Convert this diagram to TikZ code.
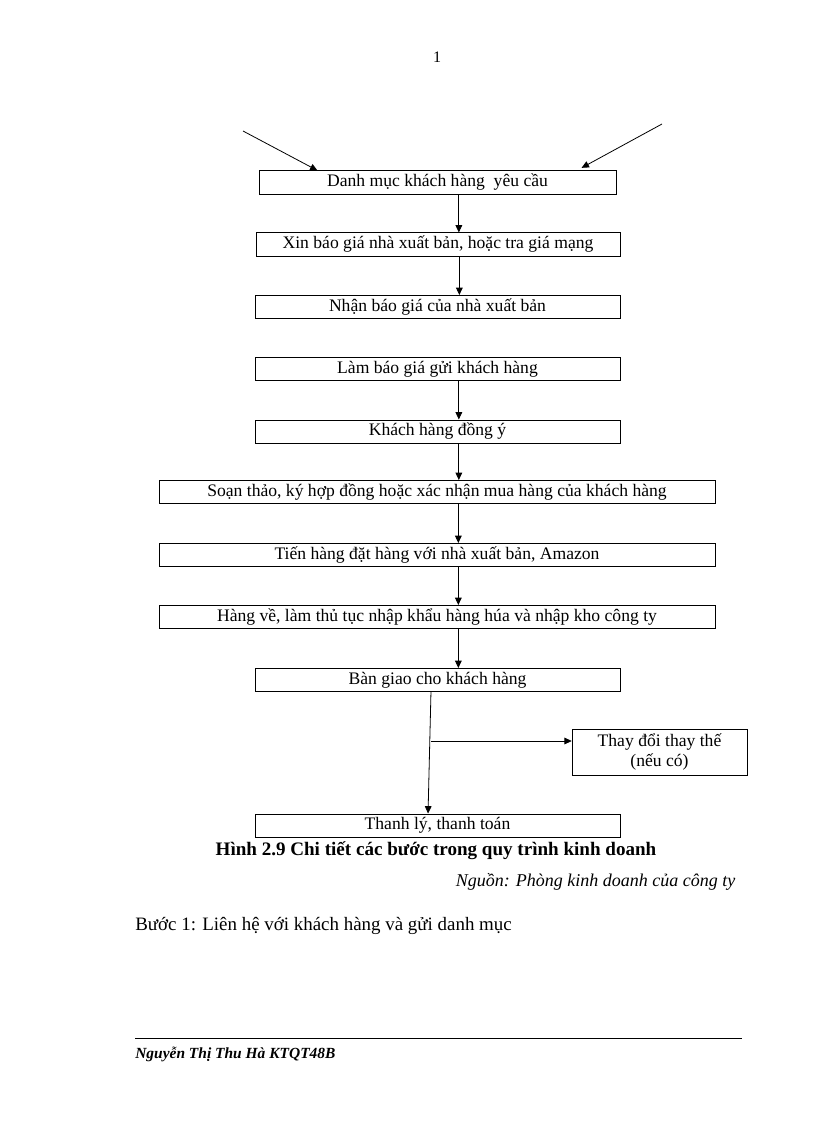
\documentclass[tikz,border=0pt]{standalone}
\usepackage{fontspec}
\setmainfont{Liberation Serif}
\usetikzlibrary{arrows.meta}
\tikzset{
	stepbox/.style={draw, rectangle, inner sep=0pt, minimum height=17.6pt, font=\fontsize{13.2}{15}\selectfont},
	narrowbox/.style={stepbox, minimum width=273.75pt},
	widebox/.style={stepbox, minimum width=417pt},
	flow/.style={line width=0.6pt, ->},
}
\begin{document}
\begin{tikzpicture}[x=0.75pt, y=-0.75pt, >={Triangle[length=5.5pt,width=5pt]}]
	\useasboundingbox (0,0) rectangle (816,1123);
	\node at (437,57) (pageno) {\fontsize{12}{14}\selectfont 1};
	% boxes
	\node[stepbox, minimum width=267.75pt] at (437.5,182.5) (b1) {Danh mục khách hàng\ \ yêu cầu};
	\node[stepbox, minimum width=273pt] at (438,244.5) (b2) {Xin báo giá nhà xuất bản, hoặc tra giá mạng};
	\node[narrowbox] at (437.5,307) (b3) {Nhận báo giá của nhà xuất bản};
	\node[narrowbox] at (437.5,369) (b4) {Làm báo giá gửi khách hàng};
	\node[narrowbox] at (437.5,431.5) (b5) {Khách hàng đồng ý};
	\node[widebox] at (437,492) (b6) {Soạn thảo, ký hợp đồng hoặc xác nhận mua hàng của khách hàng};
	\node[widebox] at (437,555) (b7) {Tiến hàng đặt hàng với nhà xuất bản, Amazon};
	\node[widebox] at (437,617) (b8) {Hàng về, làm thủ tục nhập khẩu hàng húa và nhập kho công ty};
	\node[narrowbox] at (437.5,680) (b9) {Bàn giao cho khách hàng};
	\node[stepbox, minimum width=131.25pt, minimum height=34.5pt, align=center] at (659.5,752) (b10) {Thay đổi thay thế\\(nếu có)};
	\node[narrowbox] at (437.5,825.5) (b11) {Thanh lý, thanh toán};
	% arrows
	\coordinate (tl) at (243,131);
	\coordinate (tr) at (662,124);
	\draw[flow] (tl) -- ([xshift=44pt]b1.north west);
	\draw[flow] (tr) -- ([xshift=-26pt,yshift=2pt]b1.north east);
	\foreach \a/\b in {b1/b2, b2/b3, b4/b5, b5/b6, b6/b7, b7/b8, b8/b9}
		\draw[flow] ([xshift=16pt]\a.south) -- ([xshift=16pt]\a.south |- \b.north);
	\draw[flow] ([xshift=-4.9pt]b9.south) -- ([xshift=-7.1pt]b11.north);
	\coordinate (br) at (431,741);
	\draw[flow] (br) -- (b10.west |- br);
	% texts
	\node[font=\fontsize{14.3}{16}\selectfont\bfseries] at (436,851) (cap) {Hình 2.9 Chi tiết các bước trong quy trình kinh doanh};
	\node[anchor=east, font=\fontsize{13.5}{16}\selectfont\itshape] at (740,882) (src) {Nguồn: Phòng kinh doanh của công ty};
	\node[anchor=west, inner sep=0pt, font=\fontsize{14.2}{16}\selectfont] at (135,926) (step1) {Bước 1: Liên hệ với khách hàng và gửi danh mục};
	\draw[line width=0.6pt] (135,1038) -- (742,1038);
	\node[anchor=west, inner sep=0pt, font=\fontsize{11.6}{13}\selectfont\bfseries\itshape] at (135,1054) (author) {Nguyễn Thị Thu Hà KTQT48B};
\end{tikzpicture}
\end{document}
